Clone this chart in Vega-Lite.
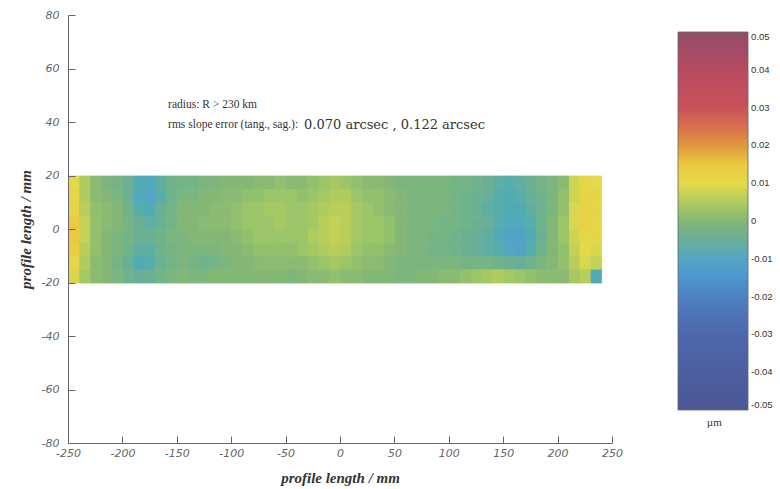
{
"$schema": "https://vega.github.io/schema/vega-lite/v6.json",
"width": 544, "height": 428,
"autosize": {"type": "none"},
"padding": {"left": 68, "top": 15, "right": 168, "bottom": 46},
"background": "white",
"config": {
  "view": {"stroke": null},
  "axis": {"domainColor": "#666", "tickColor": "#666", "tickSize": -7, "grid": false,
    "labelFont": "DejaVu Sans", "labelFontStyle": "italic", "labelFontSize": 11, "labelColor": "#666",
    "titleFont": "Liberation Serif", "titleFontStyle": "italic", "titleFontWeight": "bold", "titleFontSize": 15, "titleColor": "#333",
    "labelFlush": false, "labelOverlap": false, "labelExpr": "'' + datum.value"},
  "axisX": {"labelPadding": 11, "titlePadding": 12},
  "axisY": {"labelPadding": 16, "titlePadding": 8}
},
"data": {"values": [
{"x":-250,"y":15,"v":0.010},{"x":-250,"y":10,"v":0.011},{"x":-250,"y":5,"v":0.012},{"x":-250,"y":0,"v":0.014},{"x":-250,"y":-5,"v":0.015},{"x":-250,"y":-10,"v":0.013},{"x":-250,"y":-15,"v":0.011},{"x":-250,"y":-20,"v":0.009},
{"x":-240,"y":15,"v":0.005},{"x":-240,"y":10,"v":0.005},{"x":-240,"y":5,"v":0.006},{"x":-240,"y":0,"v":0.007},{"x":-240,"y":-5,"v":0.007},{"x":-240,"y":-10,"v":0.006},{"x":-240,"y":-15,"v":0.005},{"x":-240,"y":-20,"v":0.004},
{"x":-230,"y":15,"v":0.001},{"x":-230,"y":10,"v":0.001},{"x":-230,"y":5,"v":0.002},{"x":-230,"y":0,"v":0.002},{"x":-230,"y":-5,"v":0.002},{"x":-230,"y":-10,"v":0.002},{"x":-230,"y":-15,"v":0.001},{"x":-230,"y":-20,"v":0.001},
{"x":-220,"y":15,"v":-0.001},{"x":-220,"y":10,"v":0.000},{"x":-220,"y":5,"v":0.001},{"x":-220,"y":0,"v":0.001},{"x":-220,"y":-5,"v":0.000},{"x":-220,"y":-10,"v":0.000},{"x":-220,"y":-15,"v":0.000},{"x":-220,"y":-20,"v":0.000},
{"x":-210,"y":15,"v":-0.002},{"x":-210,"y":10,"v":-0.001},{"x":-210,"y":5,"v":0.000},{"x":-210,"y":0,"v":0.000},{"x":-210,"y":-5,"v":-0.001},{"x":-210,"y":-10,"v":-0.001},{"x":-210,"y":-15,"v":-0.002},{"x":-210,"y":-20,"v":-0.001},
{"x":-200,"y":15,"v":-0.004},{"x":-200,"y":10,"v":-0.004},{"x":-200,"y":5,"v":-0.003},{"x":-200,"y":0,"v":-0.002},{"x":-200,"y":-5,"v":-0.002},{"x":-200,"y":-10,"v":-0.003},{"x":-200,"y":-15,"v":-0.005},{"x":-200,"y":-20,"v":-0.003},
{"x":-190,"y":15,"v":-0.008},{"x":-190,"y":10,"v":-0.009},{"x":-190,"y":5,"v":-0.007},{"x":-190,"y":0,"v":-0.005},{"x":-190,"y":-5,"v":-0.004},{"x":-190,"y":-10,"v":-0.006},{"x":-190,"y":-15,"v":-0.008},{"x":-190,"y":-20,"v":-0.005},
{"x":-180,"y":15,"v":-0.009},{"x":-180,"y":10,"v":-0.010},{"x":-180,"y":5,"v":-0.008},{"x":-180,"y":0,"v":-0.006},{"x":-180,"y":-5,"v":-0.004},{"x":-180,"y":-10,"v":-0.006},{"x":-180,"y":-15,"v":-0.007},{"x":-180,"y":-20,"v":-0.004},
{"x":-170,"y":15,"v":-0.006},{"x":-170,"y":10,"v":-0.007},{"x":-170,"y":5,"v":-0.005},{"x":-170,"y":0,"v":-0.004},{"x":-170,"y":-5,"v":-0.003},{"x":-170,"y":-10,"v":-0.003},{"x":-170,"y":-15,"v":-0.004},{"x":-170,"y":-20,"v":-0.002},
{"x":-160,"y":15,"v":-0.003},{"x":-160,"y":10,"v":-0.003},{"x":-160,"y":5,"v":-0.002},{"x":-160,"y":0,"v":-0.002},{"x":-160,"y":-5,"v":-0.001},{"x":-160,"y":-10,"v":-0.002},{"x":-160,"y":-15,"v":-0.002},{"x":-160,"y":-20,"v":-0.001},
{"x":-150,"y":15,"v":-0.002},{"x":-150,"y":10,"v":-0.001},{"x":-150,"y":5,"v":0.000},{"x":-150,"y":0,"v":0.000},{"x":-150,"y":-5,"v":-0.001},{"x":-150,"y":-10,"v":-0.001},{"x":-150,"y":-15,"v":-0.001},{"x":-150,"y":-20,"v":0.000},
{"x":-140,"y":15,"v":-0.002},{"x":-140,"y":10,"v":-0.001},{"x":-140,"y":5,"v":0.000},{"x":-140,"y":0,"v":0.000},{"x":-140,"y":-5,"v":0.000},{"x":-140,"y":-10,"v":-0.001},{"x":-140,"y":-15,"v":-0.002},{"x":-140,"y":-20,"v":-0.001},
{"x":-130,"y":15,"v":-0.001},{"x":-130,"y":10,"v":0.000},{"x":-130,"y":5,"v":0.000},{"x":-130,"y":0,"v":0.001},{"x":-130,"y":-5,"v":0.000},{"x":-130,"y":-10,"v":-0.001},{"x":-130,"y":-15,"v":-0.003},{"x":-130,"y":-20,"v":-0.001},
{"x":-120,"y":15,"v":-0.001},{"x":-120,"y":10,"v":0.000},{"x":-120,"y":5,"v":0.001},{"x":-120,"y":0,"v":0.001},{"x":-120,"y":-5,"v":0.000},{"x":-120,"y":-10,"v":-0.001},{"x":-120,"y":-15,"v":-0.002},{"x":-120,"y":-20,"v":0.000},
{"x":-110,"y":15,"v":0.000},{"x":-110,"y":10,"v":0.001},{"x":-110,"y":5,"v":0.001},{"x":-110,"y":0,"v":0.001},{"x":-110,"y":-5,"v":0.000},{"x":-110,"y":-10,"v":0.000},{"x":-110,"y":-15,"v":-0.001},{"x":-110,"y":-20,"v":0.000},
{"x":-100,"y":15,"v":0.000},{"x":-100,"y":10,"v":0.001},{"x":-100,"y":5,"v":0.002},{"x":-100,"y":0,"v":0.002},{"x":-100,"y":-5,"v":0.001},{"x":-100,"y":-10,"v":0.000},{"x":-100,"y":-15,"v":0.000},{"x":-100,"y":-20,"v":0.000},
{"x":-90,"y":15,"v":0.000},{"x":-90,"y":10,"v":0.002},{"x":-90,"y":5,"v":0.003},{"x":-90,"y":0,"v":0.003},{"x":-90,"y":-5,"v":0.002},{"x":-90,"y":-10,"v":0.001},{"x":-90,"y":-15,"v":0.000},{"x":-90,"y":-20,"v":0.000},
{"x":-80,"y":15,"v":0.001},{"x":-80,"y":10,"v":0.002},{"x":-80,"y":5,"v":0.003},{"x":-80,"y":0,"v":0.003},{"x":-80,"y":-5,"v":0.003},{"x":-80,"y":-10,"v":0.002},{"x":-80,"y":-15,"v":0.001},{"x":-80,"y":-20,"v":0.000},
{"x":-70,"y":15,"v":0.001},{"x":-70,"y":10,"v":0.003},{"x":-70,"y":5,"v":0.004},{"x":-70,"y":0,"v":0.003},{"x":-70,"y":-5,"v":0.003},{"x":-70,"y":-10,"v":0.002},{"x":-70,"y":-15,"v":0.001},{"x":-70,"y":-20,"v":0.000},
{"x":-60,"y":15,"v":0.002},{"x":-60,"y":10,"v":0.003},{"x":-60,"y":5,"v":0.004},{"x":-60,"y":0,"v":0.004},{"x":-60,"y":-5,"v":0.003},{"x":-60,"y":-10,"v":0.002},{"x":-60,"y":-15,"v":0.001},{"x":-60,"y":-20,"v":0.000},
{"x":-50,"y":15,"v":0.001},{"x":-50,"y":10,"v":0.003},{"x":-50,"y":5,"v":0.003},{"x":-50,"y":0,"v":0.003},{"x":-50,"y":-5,"v":0.003},{"x":-50,"y":-10,"v":0.002},{"x":-50,"y":-15,"v":0.001},{"x":-50,"y":-20,"v":-0.001},
{"x":-40,"y":15,"v":0.001},{"x":-40,"y":10,"v":0.002},{"x":-40,"y":5,"v":0.003},{"x":-40,"y":0,"v":0.003},{"x":-40,"y":-5,"v":0.003},{"x":-40,"y":-10,"v":0.003},{"x":-40,"y":-15,"v":0.001},{"x":-40,"y":-20,"v":0.000},
{"x":-30,"y":15,"v":0.002},{"x":-30,"y":10,"v":0.003},{"x":-30,"y":5,"v":0.004},{"x":-30,"y":0,"v":0.004},{"x":-30,"y":-5,"v":0.005},{"x":-30,"y":-10,"v":0.004},{"x":-30,"y":-15,"v":0.002},{"x":-30,"y":-20,"v":0.001},
{"x":-20,"y":15,"v":0.003},{"x":-20,"y":10,"v":0.004},{"x":-20,"y":5,"v":0.005},{"x":-20,"y":0,"v":0.006},{"x":-20,"y":-5,"v":0.006},{"x":-20,"y":-10,"v":0.005},{"x":-20,"y":-15,"v":0.003},{"x":-20,"y":-20,"v":0.001},
{"x":-10,"y":15,"v":0.004},{"x":-10,"y":10,"v":0.005},{"x":-10,"y":5,"v":0.006},{"x":-10,"y":0,"v":0.007},{"x":-10,"y":-5,"v":0.007},{"x":-10,"y":-10,"v":0.006},{"x":-10,"y":-15,"v":0.004},{"x":-10,"y":-20,"v":0.002},
{"x":0,"y":15,"v":0.003},{"x":0,"y":10,"v":0.005},{"x":0,"y":5,"v":0.006},{"x":0,"y":0,"v":0.006},{"x":0,"y":-5,"v":0.006},{"x":0,"y":-10,"v":0.005},{"x":0,"y":-15,"v":0.003},{"x":0,"y":-20,"v":0.001},
{"x":10,"y":15,"v":0.002},{"x":10,"y":10,"v":0.003},{"x":10,"y":5,"v":0.004},{"x":10,"y":0,"v":0.004},{"x":10,"y":-5,"v":0.004},{"x":10,"y":-10,"v":0.003},{"x":10,"y":-15,"v":0.002},{"x":10,"y":-20,"v":0.001},
{"x":20,"y":15,"v":0.001},{"x":20,"y":10,"v":0.002},{"x":20,"y":5,"v":0.003},{"x":20,"y":0,"v":0.003},{"x":20,"y":-5,"v":0.003},{"x":20,"y":-10,"v":0.002},{"x":20,"y":-15,"v":0.001},{"x":20,"y":-20,"v":0.000},
{"x":30,"y":15,"v":0.001},{"x":30,"y":10,"v":0.002},{"x":30,"y":5,"v":0.002},{"x":30,"y":0,"v":0.003},{"x":30,"y":-5,"v":0.003},{"x":30,"y":-10,"v":0.002},{"x":30,"y":-15,"v":0.001},{"x":30,"y":-20,"v":0.000},
{"x":40,"y":15,"v":0.000},{"x":40,"y":10,"v":0.001},{"x":40,"y":5,"v":0.001},{"x":40,"y":0,"v":0.002},{"x":40,"y":-5,"v":0.002},{"x":40,"y":-10,"v":0.001},{"x":40,"y":-15,"v":0.000},{"x":40,"y":-20,"v":0.000},
{"x":50,"y":15,"v":-0.001},{"x":50,"y":10,"v":0.000},{"x":50,"y":5,"v":0.000},{"x":50,"y":0,"v":0.000},{"x":50,"y":-5,"v":0.000},{"x":50,"y":-10,"v":0.000},{"x":50,"y":-15,"v":-0.001},{"x":50,"y":-20,"v":-0.001},
{"x":60,"y":15,"v":-0.001},{"x":60,"y":10,"v":-0.001},{"x":60,"y":5,"v":-0.001},{"x":60,"y":0,"v":-0.001},{"x":60,"y":-5,"v":-0.001},{"x":60,"y":-10,"v":-0.001},{"x":60,"y":-15,"v":-0.001},{"x":60,"y":-20,"v":-0.001},
{"x":70,"y":15,"v":-0.001},{"x":70,"y":10,"v":-0.001},{"x":70,"y":5,"v":-0.001},{"x":70,"y":0,"v":-0.001},{"x":70,"y":-5,"v":-0.001},{"x":70,"y":-10,"v":-0.001},{"x":70,"y":-15,"v":-0.001},{"x":70,"y":-20,"v":0.000},
{"x":80,"y":15,"v":-0.001},{"x":80,"y":10,"v":-0.001},{"x":80,"y":5,"v":-0.001},{"x":80,"y":0,"v":-0.001},{"x":80,"y":-5,"v":-0.002},{"x":80,"y":-10,"v":-0.002},{"x":80,"y":-15,"v":-0.001},{"x":80,"y":-20,"v":0.000},
{"x":90,"y":15,"v":-0.001},{"x":90,"y":10,"v":-0.001},{"x":90,"y":5,"v":-0.001},{"x":90,"y":0,"v":-0.002},{"x":90,"y":-5,"v":-0.002},{"x":90,"y":-10,"v":-0.002},{"x":90,"y":-15,"v":-0.001},{"x":90,"y":-20,"v":0.001},
{"x":100,"y":15,"v":-0.002},{"x":100,"y":10,"v":-0.002},{"x":100,"y":5,"v":-0.002},{"x":100,"y":0,"v":-0.002},{"x":100,"y":-5,"v":-0.003},{"x":100,"y":-10,"v":-0.003},{"x":100,"y":-15,"v":-0.001},{"x":100,"y":-20,"v":0.001},
{"x":110,"y":15,"v":-0.002},{"x":110,"y":10,"v":-0.003},{"x":110,"y":5,"v":-0.003},{"x":110,"y":0,"v":-0.003},{"x":110,"y":-5,"v":-0.004},{"x":110,"y":-10,"v":-0.004},{"x":110,"y":-15,"v":-0.002},{"x":110,"y":-20,"v":0.002},
{"x":120,"y":15,"v":-0.003},{"x":120,"y":10,"v":-0.004},{"x":120,"y":5,"v":-0.004},{"x":120,"y":0,"v":-0.004},{"x":120,"y":-5,"v":-0.005},{"x":120,"y":-10,"v":-0.005},{"x":120,"y":-15,"v":-0.002},{"x":120,"y":-20,"v":0.003},
{"x":130,"y":15,"v":-0.004},{"x":130,"y":10,"v":-0.005},{"x":130,"y":5,"v":-0.006},{"x":130,"y":0,"v":-0.005},{"x":130,"y":-5,"v":-0.006},{"x":130,"y":-10,"v":-0.006},{"x":130,"y":-15,"v":-0.002},{"x":130,"y":-20,"v":0.004},
{"x":140,"y":15,"v":-0.006},{"x":140,"y":10,"v":-0.007},{"x":140,"y":5,"v":-0.007},{"x":140,"y":0,"v":-0.007},{"x":140,"y":-5,"v":-0.008},{"x":140,"y":-10,"v":-0.007},{"x":140,"y":-15,"v":-0.003},{"x":140,"y":-20,"v":0.005},
{"x":150,"y":15,"v":-0.007},{"x":150,"y":10,"v":-0.008},{"x":150,"y":5,"v":-0.008},{"x":150,"y":0,"v":-0.009},{"x":150,"y":-5,"v":-0.011},{"x":150,"y":-10,"v":-0.010},{"x":150,"y":-15,"v":-0.004},{"x":150,"y":-20,"v":0.004},
{"x":160,"y":15,"v":-0.006},{"x":160,"y":10,"v":-0.007},{"x":160,"y":5,"v":-0.008},{"x":160,"y":0,"v":-0.009},{"x":160,"y":-5,"v":-0.011},{"x":160,"y":-10,"v":-0.011},{"x":160,"y":-15,"v":-0.005},{"x":160,"y":-20,"v":0.003},
{"x":170,"y":15,"v":-0.004},{"x":170,"y":10,"v":-0.005},{"x":170,"y":5,"v":-0.006},{"x":170,"y":0,"v":-0.007},{"x":170,"y":-5,"v":-0.008},{"x":170,"y":-10,"v":-0.007},{"x":170,"y":-15,"v":-0.003},{"x":170,"y":-20,"v":0.002},
{"x":180,"y":15,"v":-0.002},{"x":180,"y":10,"v":-0.003},{"x":180,"y":5,"v":-0.003},{"x":180,"y":0,"v":-0.003},{"x":180,"y":-5,"v":-0.004},{"x":180,"y":-10,"v":-0.003},{"x":180,"y":-15,"v":-0.001},{"x":180,"y":-20,"v":0.001},
{"x":190,"y":15,"v":-0.001},{"x":190,"y":10,"v":-0.001},{"x":190,"y":5,"v":-0.001},{"x":190,"y":0,"v":0.000},{"x":190,"y":-5,"v":0.000},{"x":190,"y":-10,"v":0.000},{"x":190,"y":-15,"v":0.000},{"x":190,"y":-20,"v":0.001},
{"x":200,"y":15,"v":0.001},{"x":200,"y":10,"v":0.002},{"x":200,"y":5,"v":0.002},{"x":200,"y":0,"v":0.003},{"x":200,"y":-5,"v":0.003},{"x":200,"y":-10,"v":0.002},{"x":200,"y":-15,"v":0.002},{"x":200,"y":-20,"v":0.001},
{"x":210,"y":15,"v":0.008},{"x":210,"y":10,"v":0.008},{"x":210,"y":5,"v":0.009},{"x":210,"y":0,"v":0.009},{"x":210,"y":-5,"v":0.008},{"x":210,"y":-10,"v":0.007},{"x":210,"y":-15,"v":0.006},{"x":210,"y":-20,"v":0.004},
{"x":220,"y":15,"v":0.011},{"x":220,"y":10,"v":0.012},{"x":220,"y":5,"v":0.012},{"x":220,"y":0,"v":0.012},{"x":220,"y":-5,"v":0.011},{"x":220,"y":-10,"v":0.010},{"x":220,"y":-15,"v":0.009},{"x":220,"y":-20,"v":0.006},
{"x":230,"y":15,"v":0.010},{"x":230,"y":10,"v":0.011},{"x":230,"y":5,"v":0.011},{"x":230,"y":0,"v":0.011},{"x":230,"y":-5,"v":0.011},{"x":230,"y":-10,"v":0.009},{"x":230,"y":-15,"v":0.007},{"x":230,"y":-20,"v":-0.008}
]},
"layer": [
{
 "mark": {"type": "rect", "binSpacing": 0, "filled": false, "strokeWidth": 0.8},
 "encoding": {
   "x": {"field": "x", "type": "quantitative", "bin": {"binned": true, "step": 10},
     "scale": {"domain": [-250, 250], "nice": false, "zero": false},
     "axis": {"values": [-250,-200,-150,-100,-50,0,50,100,150,200,250], "title": "profile length / mm"}},
   "y": {"field": "y", "type": "quantitative", "bin": {"binned": true, "step": 5},
     "scale": {"domain": [-80, 80], "nice": false, "zero": false},
     "axis": {"values": [-80,-60,-40,-20,0,20,40,60,80], "title": "profile length / mm"}},
   "stroke": {"field": "v", "type": "quantitative", "legend": null,
     "scale": {"domain": [-0.0501,-0.04,-0.03,-0.025,-0.02,-0.015,-0.01,-0.005,0,0.005,0.01,0.015,0.02,0.025,0.03,0.04,0.0501],
       "range": ["#4d5895","#4c5fa0","#4d68ab","#4e72b6","#4f82c2","#4c96cc","#55a6c6","#6aae98","#84b776","#b0cb5e","#e4d94a","#ebc93e","#e0983f","#d86e4e","#c9525a","#b84a60","#8f4d68"]}}
 }
},
{
 "mark": {"type": "rect", "binSpacing": 0},
 "encoding": {
   "x": {"field": "x", "type": "quantitative", "bin": {"binned": true, "step": 10},
     "scale": {"domain": [-250, 250], "nice": false, "zero": false},
     "axis": {"values": [-250,-200,-150,-100,-50,0,50,100,150,200,250], "title": "profile length / mm"}},
   "y": {"field": "y", "type": "quantitative", "bin": {"binned": true, "step": 5},
     "scale": {"domain": [-80, 80], "nice": false, "zero": false},
     "axis": {"values": [-80,-60,-40,-20,0,20,40,60,80], "title": "profile length / mm"}},
   "color": {"field": "v", "type": "quantitative",
     "scale": {"domain": [-0.05,-0.04,-0.03,-0.025,-0.02,-0.015,-0.01,-0.005,0,0.005,0.01,0.015,0.02,0.025,0.03,0.04,0.05],
       "range": ["#4d5895","#4c5fa0","#4d68ab","#4e72b6","#4f82c2","#4c96cc","#55a6c6","#6aae98","#84b776","#b0cb5e","#e4d94a","#ebc93e","#e0983f","#d86e4e","#c9525a","#b84a60","#8f4d68"]},
     "legend": {"type": "gradient", "orient": "none", "legendX": 610, "legendY": 17, "direction": "vertical",
       "gradientLength": 378, "gradientThickness": 70, "gradientStrokeColor": "#666", "gradientStrokeWidth": 0.8,
       "values": [0.05,0.04,0.03,0.02,0.01,0,-0.01,-0.02,-0.03,-0.04,-0.05], "labelExpr": "'' + datum.value",
       "labelFont": "Liberation Sans", "labelFontSize": 9.5, "labelColor": "#333", "labelOffset": 3, "labelBaseline": "middle",
       "title": null, "padding": 0}}
 }
},
{
 "data": {"values": [
   {"x": -158, "y": 46.4, "t": "radius: R > 230 km"},
   {"x": -158, "y": 38.9, "t": "rms slope error (tang., sag.):"}
 ]},
 "mark": {"type": "text", "align": "left", "baseline": "middle", "font": "Liberation Serif", "fontSize": 11.5, "color": "#333"},
 "encoding": {
   "x": {"field": "x", "type": "quantitative", "axis": {"values": [-250,-200,-150,-100,-50,0,50,100,150,200,250], "title": "profile length / mm"}},
   "y": {"field": "y", "type": "quantitative", "axis": {"values": [-80,-60,-40,-20,0,20,40,60,80], "title": "profile length / mm"}},
   "text": {"field": "t"}
 }
},
{
 "data": {"values": [
   {"x": -33, "y": 38.9, "t": "0.070 arcsec , 0.122 arcsec"}
 ]},
 "mark": {"type": "text", "align": "left", "baseline": "middle", "font": "DejaVu Serif", "fontSize": 13, "color": "#333"},
 "encoding": {
   "x": {"field": "x", "type": "quantitative", "axis": {"values": [-250,-200,-150,-100,-50,0,50,100,150,200,250], "title": "profile length / mm"}},
   "y": {"field": "y", "type": "quantitative", "axis": {"values": [-80,-60,-40,-20,0,20,40,60,80], "title": "profile length / mm"}},
   "text": {"field": "t"}
 }
},
{
 "data": {"values": [
   {"x": 344, "y": -72.5, "t": "µm"}
 ]},
 "mark": {"type": "text", "align": "center", "baseline": "middle", "font": "Liberation Serif", "fontSize": 11, "color": "#333"},
 "encoding": {
   "x": {"field": "x", "type": "quantitative", "axis": {"values": [-250,-200,-150,-100,-50,0,50,100,150,200,250], "title": "profile length / mm"}},
   "y": {"field": "y", "type": "quantitative", "axis": {"values": [-80,-60,-40,-20,0,20,40,60,80], "title": "profile length / mm"}},
   "text": {"field": "t"}
 }
}
]
}
